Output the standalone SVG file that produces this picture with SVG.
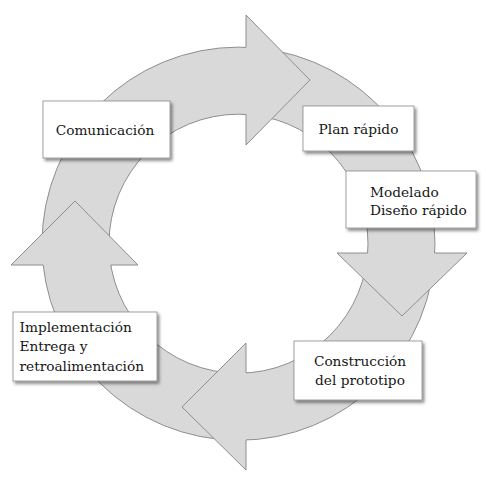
<svg xmlns="http://www.w3.org/2000/svg" width="486" height="481" viewBox="0 0 486 481">
<defs>
<style>
.ring{fill:#d9d9d9;stroke:#8e8e8e;stroke-width:1;fill-rule:evenodd}
.head{fill:#d9d9d9;stroke:none}
.edge{fill:none;stroke:#8e8e8e;stroke-width:1;stroke-linejoin:miter}
.box{fill:#ffffff;stroke:#8a8a8a;stroke-width:0.8;filter:url(#sh)}
.t{font-family:"DejaVu Serif","Liberation Serif",serif;font-size:13.7px;fill:#161616}
.c{text-anchor:middle}
</style>
<filter id="sh" x="-10%" y="-10%" width="125%" height="130%">
<feDropShadow dx="2" dy="2.5" stdDeviation="1.5" flood-color="#000" flood-opacity="0.45"/>
</filter>
</defs>
<rect width="486" height="481" fill="#ffffff"/>
<g id="connectors">
<path class="ring" d="M435,243.7 A196.5,196.5 0 1 1 42,243.7 A196.5,196.5 0 1 1 435,243.7 Z M368,243.7 A129.5,129.5 0 1 0 109,243.7 A129.5,129.5 0 1 0 368,243.7 Z"/>
<g id="arrow-top">
<polygon class="head" points="246,15 310,80 246,145"/>
<polyline class="edge" points="246,47.3 246,15 310,80 246,145 246,114.4"/>
</g>
<g id="arrow-right">
<polygon class="head" points="467,253 402,316 337,253"/>
<polyline class="edge" points="434.8,253 467,253 402,316 337,253 367.7,253"/>
</g>
<g id="arrow-bottom">
<polygon class="head" points="246,470 182,407 246,343"/>
<polyline class="edge" points="246,440.1 246,470 182,407 246,343 246,373"/>
</g>
<g id="arrow-left">
<polygon class="head" points="11,265 75,201 138,265"/>
<polyline class="edge" points="43.2,265 11,265 75,201 138,265 110.8,265"/>
</g>
</g>
<g id="node-comunicacion">
<rect class="box" x="43" y="101" width="127" height="57"/>
<text class="t c" x="105" y="135">Comunicación</text>
</g>
<g id="node-plan">
<rect class="box" x="303" y="106" width="111" height="45"/>
<text class="t c" x="358.5" y="134">Plan rápido</text>
</g>
<g id="node-modelado">
<rect class="box" x="346" y="171" width="130" height="57"/>
<text class="t" x="370" y="197">Modelado</text>
<text class="t" x="370" y="215">Diseño rápido</text>
</g>
<g id="node-construccion">
<rect class="box" x="294" y="341" width="128" height="59"/>
<text class="t c" x="360" y="366">Construcción</text>
<text class="t c" x="360" y="385">del prototipo</text>
</g>
<g id="node-implementacion">
<rect class="box" x="13" y="312" width="144" height="69"/>
<text class="t" x="19.5" y="332">Implementación</text>
<text class="t" x="19.5" y="351">Entrega y</text>
<text class="t" x="19.5" y="371">retroalimentación</text>
</g>
</svg>
